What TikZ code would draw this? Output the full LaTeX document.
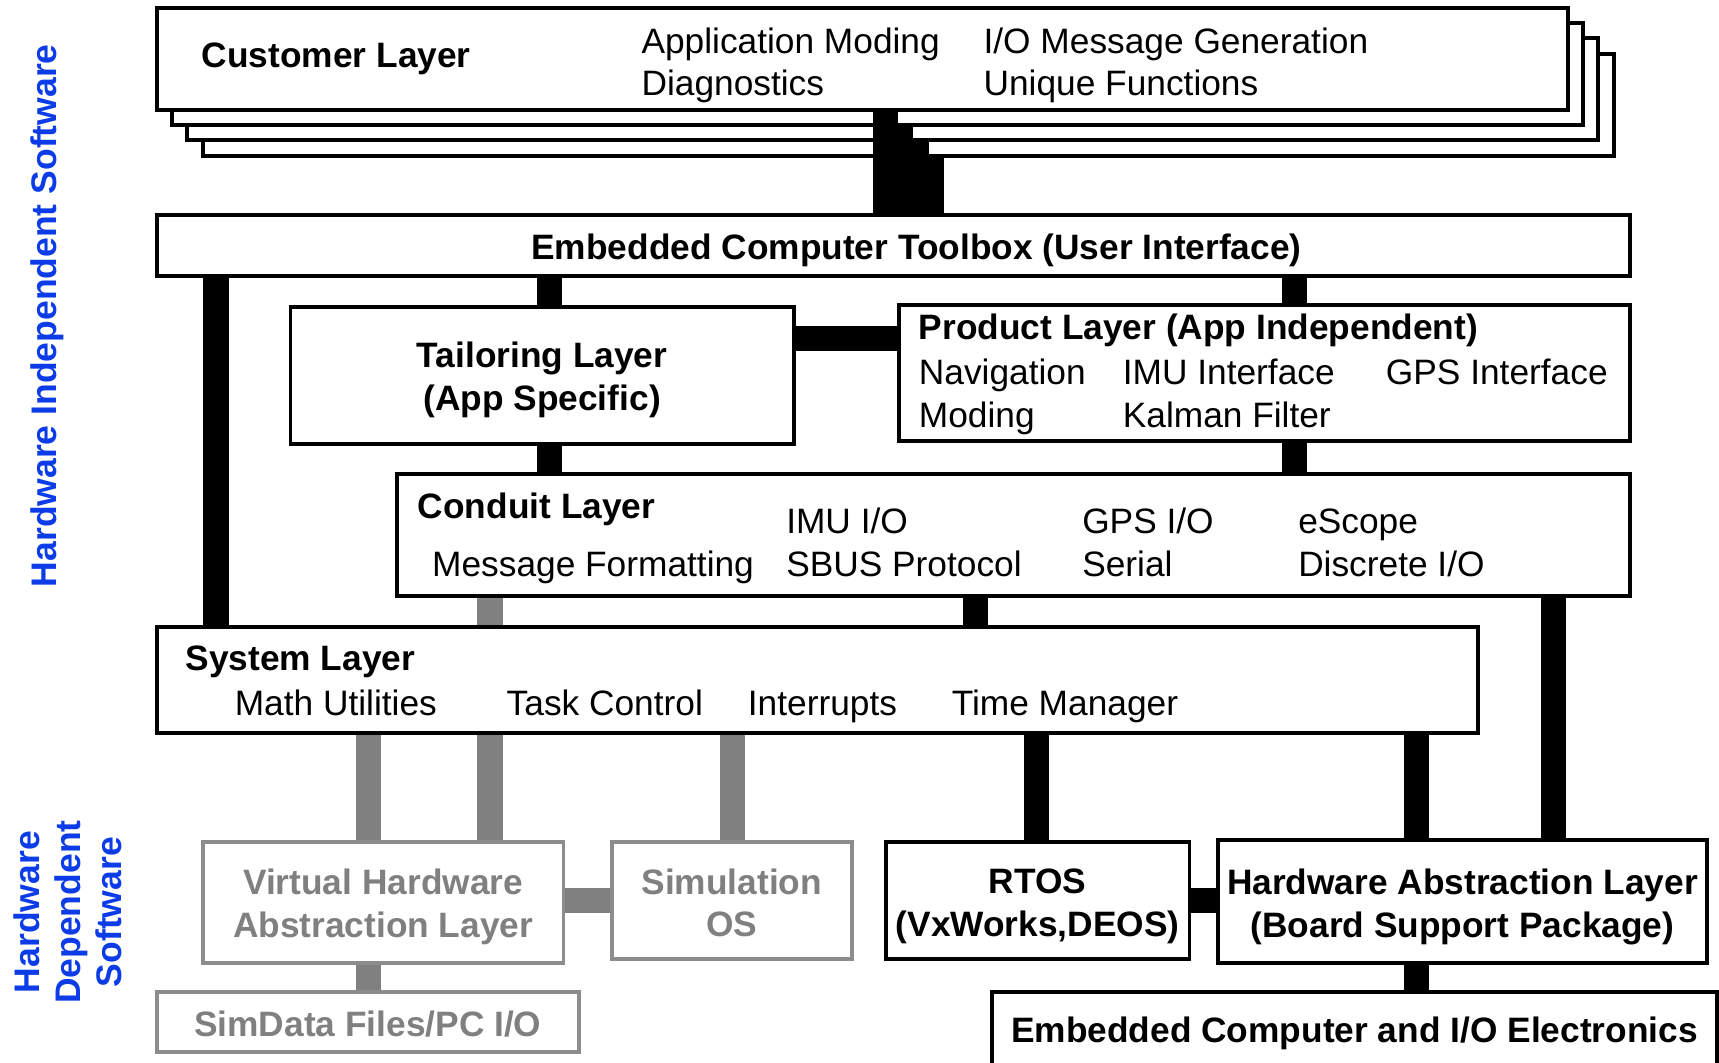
\documentclass[tikz,border=0pt]{standalone}
\usepackage{fontspec}
\setmainfont{Liberation Sans}
\definecolor{bargray}{RGB}{128,128,128}
\definecolor{boxgray}{RGB}{140,140,140}
\definecolor{txtgray}{RGB}{128,128,128}
\definecolor{lblblue}{RGB}{12,60,232}
\begin{document}
\begin{tikzpicture}[x=1pt,y=-1pt,
  every node/.style={font=\fontsize{32.2}{39}\selectfont},
  box/.style={draw=black, line width=3.6pt, fill=white, anchor=north west,
    inner sep=0pt, outer sep=0pt},
  simbox/.style={box, draw=boxgray},
  ctext/.style={align=center, inner sep=0pt, font=\fontsize{32.2}{39}\selectfont\bfseries},
  simtext/.style={ctext, text=txtgray},
  lbl/.style={anchor=base west, inner sep=0pt},
  bar/.style={line width=23pt, line cap=butt, draw=black},
  simbar/.style={bar, draw=bargray},
  side/.style={text=lblblue, rotate=90, align=center, inner sep=0pt,
    font=\fontsize{32.4}{37.5}\selectfont\bfseries}]

\useasboundingbox (0,0) rectangle (1568,969);
\clip (0,0) rectangle (1568,969);

% x positions of the vertical links
\coordinate (xc0) at (807.5,0);
\coordinate (xc1) at (821.5,0);
\coordinate (xc2) at (835.5,0);
\coordinate (xc3) at (849.5,0);
\coordinate (xA) at (197,0);
\coordinate (xB) at (501.5,0);
\coordinate (xC) at (1181,0);
\coordinate (xD) at (447,0);
\coordinate (xE) at (890,0);
\coordinate (xF) at (1417,0);
\coordinate (xG) at (336,0);
\coordinate (xH) at (668,0);
\coordinate (xI) at (945.5,0);
\coordinate (xJ) at (1292,0);
% y positions of the horizontal links
\coordinate (yP) at (0,308.5);
\coordinate (yS) at (0,821.5);

% stacked customer layers, back to front
\node[box, minimum width=1287, minimum height=93] (cust3) at (185,49) {};
\node[box, minimum width=1287, minimum height=93] (cust2) at (171,35) {};
\node[box, minimum width=1287, minimum height=93] (cust1) at (157,21) {};
\node[box, minimum width=1287, minimum height=93] (cust0) at (143,7) {};

% layer outlines (placed first so the links can refer to them)
\path
  (143,196) node[box, minimum width=1344, minimum height=56] (tool) {}
  (265,280) node[box, minimum width=459, minimum height=125] (tail) {}
  (820,278) node[box, minimum width=667, minimum height=124] (prod) {}
  (362,432) node[box, minimum width=1125, minimum height=112] (cond) {}
  (143,572) node[box, minimum width=1205, minimum height=97] (sys) {}
  (185,768) node[simbox, minimum width=329, minimum height=110] (vhal) {}
  (558,768) node[simbox, minimum width=219, minimum height=107] (simos) {}
  (143,905) node[simbox, minimum width=385, minimum height=55] (simdata) {}
  (808,768) node[box, minimum width=277, minimum height=107] (rtos) {}
  (1111,766) node[box, minimum width=446, minimum height=112] (hal) {}
  (905,905) node[box, minimum width=661, minimum height=68] (ecio) {};

% links from the customer layers
\draw[bar] (cust0.south -| xc0) -- (tool.north -| xc0);
\draw[bar] (cust1.south -| xc1) -- (tool.north -| xc1);
\draw[bar] (cust2.south -| xc2) -- (tool.north -| xc2);
\draw[bar] (cust3.south -| xc3) -- (tool.north -| xc3);

% black links
\draw[bar] (tool.south -| xA) -- (sys.north -| xA);
\draw[bar] (tool.south -| xB) -- (tail.north -| xB);
\draw[bar] (tool.south -| xC) -- (prod.north -| xC);
\draw[bar] (tail.east |- yP) -- (prod.west |- yP);
\draw[bar] (tail.south -| xB) -- (cond.north -| xB);
\draw[bar] (prod.south -| xC) -- (cond.north -| xC);
\draw[bar] (cond.south -| xE) -- (sys.north -| xE);
\draw[bar] (cond.south -| xF) -- (hal.north -| xF);
\draw[bar] (sys.south -| xI) -- (rtos.north -| xI);
\draw[bar] (sys.south -| xJ) -- (hal.north -| xJ);
\draw[bar] (rtos.east |- yS) -- (hal.west |- yS);
\draw[bar] (hal.south -| xJ) -- (ecio.north -| xJ);

% grey simulation links
\draw[simbar] (cond.south -| xD) -- (sys.north -| xD);
\draw[simbar] (sys.south -| xG) -- (vhal.north -| xG);
\draw[simbar] (sys.south -| xD) -- (vhal.north -| xD);
\draw[simbar] (sys.south -| xH) -- (simos.north -| xH);
\draw[simbar] (vhal.east |- yS) -- (simos.west |- yS);
\draw[simbar] (vhal.south -| xG) -- (simdata.north -| xG);

% outlines redrawn on top of the link ends
\path
  (143,196) node[box, minimum width=1344, minimum height=56] (toolF) {}
  (265,280) node[box, minimum width=459, minimum height=125] (tailF) {}
  (820,278) node[box, minimum width=667, minimum height=124] (prodF) {}
  (362,432) node[box, minimum width=1125, minimum height=112] (condF) {}
  (143,572) node[box, minimum width=1205, minimum height=97] (sysF) {}
  (185,768) node[simbox, minimum width=329, minimum height=110] (vhalF) {}
  (558,768) node[simbox, minimum width=219, minimum height=107] (simosF) {}
  (143,905) node[simbox, minimum width=385, minimum height=55] (simdataF) {}
  (808,768) node[box, minimum width=277, minimum height=107] (rtosF) {}
  (1111,766) node[box, minimum width=446, minimum height=112] (halF) {}
  (905,905) node[box, minimum width=661, minimum height=68] (ecioF) {};

% centred titles
\node[ctext, yshift=-4pt] (tailT) at (tailF.center) {Tailoring Layer\\(App Specific)};
\node[simtext, yshift=-4pt] (vhalT) at (vhalF.center) {Virtual Hardware\\Abstraction Layer};
\node[simtext, yshift=-2pt] (simosT) at (simosF.center) {Simulation\\OS};
\node[simtext, yshift=-2pt] (simdataT) at (simdataF.center) {SimData Files/PC I/O};
\node[ctext, yshift=-5pt] (rtosT) at (rtosF.center) {RTOS\\(VxWorks,DEOS)};
\node[ctext, yshift=-5pt] (halT) at (halF.center) {Hardware Abstraction Layer\\(Board Support Package)};
\node[ctext, yshift=-4pt] (ecioT) at (ecioF.center) {Embedded Computer and I/O Electronics};

% customer layer text
\node[lbl] (custT) at (184,62) {\bfseries Customer Layer};
\node[lbl] (custA) at (585,49) {Application Moding};
\node[lbl] (custB) at (585,87) {Diagnostics};
\node[lbl] (custC) at (897,49) {I/O Message Generation};
\node[lbl] (custD) at (897,87) {Unique Functions};

% toolbox text
\node[anchor=base, inner sep=0pt] (toolT) at (836,237) {\bfseries Embedded Computer Toolbox (User Interface)};

% product layer text
\node[lbl] (prodT) at (838,310) {\bfseries Product Layer (App Independent)};
\node[lbl] (prodA) at (838,351) {Navigation};
\node[lbl] (prodB) at (1024,351) {IMU Interface};
\node[lbl] (prodC) at (1264,351) {GPS Interface};
\node[lbl] (prodD) at (838,390) {Moding};
\node[lbl] (prodE) at (1024,390) {Kalman Filter};

% conduit layer text
\node[lbl] (condT) at (381,473) {\bfseries Conduit Layer};
\node[lbl] (condA) at (394,526) {Message Formatting};
\node[lbl] (condB) at (717,487) {IMU I/O};
\node[lbl] (condC) at (717,526) {SBUS Protocol};
\node[lbl] (condD) at (987,487) {GPS I/O};
\node[lbl] (condE) at (987,526) {Serial};
\node[lbl] (condF) at (1184,487) {eScope};
\node[lbl] (condG) at (1184,526) {Discrete I/O};

% system layer text
\node[lbl] (sysT) at (169,612) {\bfseries System Layer};
\node[lbl] (sysA) at (214,653) {Math Utilities};
\node[lbl] (sysB) at (462,653) {Task Control};
\node[lbl] (sysC) at (682,653) {Interrupts};
\node[lbl] (sysD) at (868,653) {Time Manager};

% side captions
\node[side] (indep) at (43,288) {Hardware Independent Software};
\node[side] (dep) at (62,832) {Hardware\\Dependent\\Software};

\end{tikzpicture}
\end{document}
